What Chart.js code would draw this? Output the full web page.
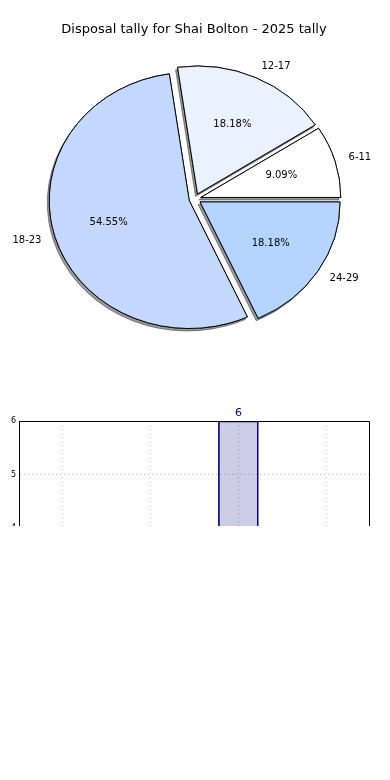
<!DOCTYPE html>
<html>
<head>
<meta charset="utf-8">
<script src="https://cdn.jsdelivr.net/npm/chart.js@4.4.1/dist/chart.umd.min.js"></script>
<style>
  html, body { margin: 0; padding: 0; background: #fff; }
  #pieBox { position: absolute; left: 0; top: 0; width: 390px; height: 400px; }
  #barBox { position: absolute; left: 0; top: 400px; width: 390px; height: 126px; overflow: hidden; }
</style>
</head>
<body>
<div id="pieBox"><canvas id="pie" width="390" height="398"></canvas></div>
<div id="barBox"><canvas id="bar" width="390" height="380"></canvas></div>
<script>
// data
const ageGroups = ["6-11", "12-17", "18-23", "24-29"];
const disposals = [1, 2, 6, 2];
const sliceColors = ["#ffffff", "#eaf1ff", "#c4d8ff", "#b3d5ff"];
const chartTitle = "Disposal tally for Shai Bolton - 2025 tally";

const FONT = "'DejaVu Sans', sans-serif";
const SQUASH = 0.914; // pie is drawn as an ellipse (non-equal aspect)
const PULL = 6;       // how far every slice is pulled out

const total = disposals.reduce((a, b) => a + b, 0);

// draws the slices ourselves: flipped so they run counter-clockwise,
// squashed vertically, pulled out, with a flat shadow underneath
const explodedPie = {
    id: "explodedPie",
    beforeDatasetsDraw(chart) {
        const ctx = chart.ctx;
        const arcs = chart.getDatasetMeta(0).data;
        const cx = arcs[0].x, cy = arcs[0].y;
        const drawAll = (shadow) => {
            ctx.save();
            ctx.translate(cx, cy);
            ctx.scale(1, -SQUASH);
            ctx.translate(-cx, -cy);
            if (shadow) {
                ctx.shadowColor = "rgba(0,0,0,0.4)";
                ctx.shadowOffsetX = -2;
                ctx.shadowOffsetY = 2.5;
                ctx.shadowBlur = 0;
            }
            arcs.forEach((arc) => {
                const mid = (arc.startAngle + arc.endAngle) / 2;
                ctx.save();
                ctx.translate(Math.cos(mid) * PULL, Math.sin(mid) * PULL);
                arc.draw(ctx);
                ctx.restore();
            });
            ctx.restore();
        };
        drawAll(true);
        drawAll(false);
        return false;
    },
    afterDraw(chart) {
        const ctx = chart.ctx;
        const arcs = chart.getDatasetMeta(0).data;
        ctx.save();
        ctx.fillStyle = "#000";
        ctx.textBaseline = "middle";
        ctx.font = "13px " + FONT;
        ctx.textAlign = "center";
        ctx.fillText(chartTitle, 194, 30);

        ctx.font = "10px " + FONT;
        arcs.forEach((arc, i) => {
            const mid = (arc.startAngle + arc.endAngle) / 2;
            const r = arc.outerRadius;
            const at = (k) => {
                const d = PULL + k * r;
                return {
                    x: arc.x + d * Math.cos(mid),
                    y: arc.y - SQUASH * d * Math.sin(mid),
                };
            };
            const lp = at(1.1);
            ctx.textAlign = Math.cos(mid) > 0 ? "left" : "right";
            ctx.fillText(ageGroups[i], lp.x, lp.y);
            const pp = at(0.6);
            ctx.textAlign = "center";
            ctx.fillText((disposals[i] / total * 100).toFixed(2) + "%", pp.x, pp.y);
        });
        ctx.restore();
    },
};

new Chart(document.getElementById("pie"), {
    type: "pie",
    data: {
        labels: ageGroups,
        datasets: [{
            data: disposals,
            backgroundColor: sliceColors,
            borderColor: "#000",
            borderWidth: 1,
            radius: 140,
        }],
    },
    options: {
        responsive: false,
        animation: false,
        rotation: 90,
        layout: { padding: 0 },
        plugins: {
            legend: { display: false },
            tooltip: { enabled: false },
        },
    },
    plugins: [explodedPie],
});

// box around the bar plot + value labels on top of bars
const barExtras = {
    id: "barExtras",
    afterDraw(chart) {
        const ctx = chart.ctx;
        const a = chart.chartArea;
        ctx.save();
        ctx.strokeStyle = "#000";
        ctx.lineWidth = 1;
        ctx.beginPath();
        ctx.moveTo(a.left, a.top + 0.5);
        ctx.lineTo(a.right - 0.5, a.top + 0.5);
        ctx.lineTo(a.right - 0.5, a.bottom);
        ctx.stroke();

        ctx.fillStyle = "#00007a";
        ctx.font = "11px " + FONT;
        ctx.textAlign = "center";
        ctx.textBaseline = "middle";
        chart.getDatasetMeta(0).data.forEach((bar, i) => {
            ctx.fillText(String(disposals[i]), bar.x, bar.y - 8);
        });
        ctx.restore();
    },
};

new Chart(document.getElementById("bar"), {
    type: "bar",
    data: {
        labels: ageGroups,
        datasets: [{
            data: disposals,
            backgroundColor: "rgba(0,0,128,0.2)",
            borderColor: "#000080",
            borderWidth: 1,
            barThickness: 40,
        }],
    },
    options: {
        responsive: false,
        animation: false,
        layout: { padding: { left: 0, top: 21, right: 20, bottom: 0 } },
        plugins: {
            legend: { display: false },
            tooltip: { enabled: false },
        },
        scales: {
            x: {
                grid: { offset: false, color: "#b8b8b8", drawTicks: false },
                border: { color: "#000", dash: [1, 3] },
                ticks: { color: "#000", font: { size: 8, family: FONT }, padding: 4 },
                afterFit(s) { s.height = 38; },
            },
            y: {
                min: 0,
                max: 6,
                ticks: { stepSize: 1, color: "#000", font: { size: 8, family: FONT }, padding: 3 },
                grid: { color: "#b8b8b8", drawTicks: false },
                border: { color: "#000", dash: [1, 3] },
                afterFit(s) { s.width = 19; },
            },
        },
    },
    plugins: [barExtras],
});
</script>
</body>
</html>
